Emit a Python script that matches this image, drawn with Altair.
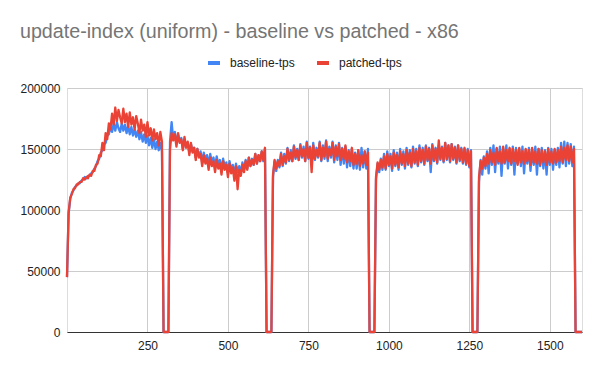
import altair as alt
import pandas as pd

# x positions (every 5 units)
x_values = list(range(0, 1601, 5))

baseline_tps = [
    # segment 1 (0-295)
    45000, 97000, 109000, 114000, 116000, 119000, 120000, 122000, 122000, 124000,
    125000, 127000, 126000, 128000, 128000, 130000, 131000, 134000, 136000, 140000,
    142000, 147000, 149000, 154000, 155000, 161000, 162000, 168000, 164000, 171000,
    165000, 172000, 167000, 164000, 171000, 165000, 170000, 163000, 169000, 162000,
    168000, 161000, 166000, 160000, 165000, 158000, 164000, 156000, 162000, 155000,
    161000, 153000, 159000, 151000, 158000, 150000, 156000, 149000, 155000, 148000,
    # gap (300-315)
    0, 0, 0, 0,
    # segment 2 (320-615)
    156000, 172000, 158000, 164000, 154000, 162000, 156000, 159000, 150000, 158000,
    152000, 155000, 147000, 154000, 148000, 151000, 143000, 150000, 144000, 148000,
    139000, 147000, 141000, 145000, 137000, 146000, 139000, 143000, 135000, 144000,
    137000, 141000, 132000, 142000, 135000, 139000, 131000, 140000, 133000, 137000,
    129000, 138000, 131000, 136000, 130000, 139000, 133000, 141000, 134000, 143000,
    136000, 142000, 137000, 146000, 138000, 145000, 140000, 148000, 140000, 150000,
    # gap (620-635)
    0, 0, 0, 0,
    # segment 3 (640-935)
    127000, 140000, 132000, 141000, 135000, 147000, 136000, 146000, 138000, 151000,
    140000, 149000, 140000, 153000, 142000, 150000, 141000, 154000, 143000, 152000,
    140000, 156000, 142000, 152000, 137000, 155000, 141000, 151000, 143000, 156000,
    140000, 153000, 142000, 157000, 140000, 152000, 143000, 156000, 139000, 153000,
    141000, 155000, 137000, 151000, 138000, 152000, 135000, 149000, 136000, 150000,
    134000, 147000, 134000, 149000, 133000, 151000, 135000, 148000, 134000, 150000,
    # gap (940-955)
    0, 0, 0, 0,
    # segment 4 (960-1255)
    125000, 138000, 131000, 142000, 133000, 146000, 133000, 148000, 136000, 146000,
    132000, 149000, 136000, 147000, 133000, 150000, 137000, 148000, 134000, 151000,
    137000, 149000, 135000, 152000, 138000, 150000, 136000, 153000, 139000, 151000,
    137000, 153000, 140000, 151000, 131000, 154000, 140000, 151000, 138000, 153000,
    141000, 152000, 139000, 155000, 141000, 153000, 139000, 154000, 141000, 152000,
    138000, 153000, 140000, 151000, 138000, 150000, 137000, 150000, 135000, 149000,
    # gap (1260-1275)
    0, 0, 0, 0,
    # segment 5 (1280-1575)
    123000, 141000, 129000, 144000, 134000, 148000, 130000, 151000, 137000, 153000,
    131000, 150000, 138000, 152000, 128000, 151000, 138000, 153000, 134000, 150000,
    137000, 152000, 129000, 151000, 138000, 150000, 136000, 152000, 130000, 149000,
    138000, 151000, 132000, 150000, 137000, 152000, 129000, 150000, 136000, 151000,
    134000, 149000, 129000, 151000, 137000, 150000, 133000, 149000, 137000, 151000,
    135000, 155000, 138000, 156000, 136000, 155000, 138000, 154000, 136000, 152000,
    # tail (1580-1600)
    0, 0, 0, 0, 0,
]

patched_tps = [
    # segment 1 (0-295)
    45000, 98000, 110000, 113000, 117000, 118000, 121000, 121000, 123000, 123000,
    126000, 125000, 127000, 126000, 129000, 128000, 132000, 132000, 137000, 138000,
    145000, 144000, 155000, 149000, 163000, 158000, 171000, 166000, 179000, 170000,
    184000, 173000, 182000, 176000, 171000, 183000, 172000, 179000, 168000, 180000,
    170000, 176000, 166000, 177000, 171000, 163000, 174000, 165000, 170000, 160000,
    172000, 161000, 167000, 157000, 166000, 158000, 163000, 153000, 164000, 156000,
    # gap (300-315)
    0, 0, 0, 0,
    # segment 2 (320-615)
    150000, 163000, 157000, 162000, 152000, 163000, 155000, 158000, 149000, 160000,
    151000, 156000, 145000, 155000, 147000, 151000, 141000, 150000, 143000, 146000,
    136000, 145000, 138000, 142000, 133000, 143000, 136000, 140000, 131000, 141000,
    134000, 138000, 129000, 140000, 133000, 137000, 127000, 138000, 130000, 135000,
    124000, 136000, 117000, 133000, 128000, 137000, 131000, 140000, 133000, 143000,
    136000, 141000, 137000, 146000, 138000, 145000, 140000, 148000, 141000, 151000,
    # gap (620-635)
    0, 0, 0, 0,
    # segment 3 (640-935)
    129000, 141000, 134000, 140000, 136000, 146000, 137000, 144000, 139000, 150000,
    141000, 147000, 140000, 152000, 143000, 149000, 141000, 153000, 144000, 150000,
    140000, 155000, 143000, 151000, 131000, 153000, 142000, 149000, 144000, 155000,
    141000, 151000, 144000, 156000, 142000, 150000, 145000, 155000, 141000, 152000,
    144000, 154000, 141000, 150000, 142000, 153000, 139000, 148000, 140000, 151000,
    137000, 146000, 138000, 149000, 136000, 145000, 138000, 148000, 137000, 147000,
    # gap (940-955)
    0, 0, 0, 0,
    # segment 4 (960-1255)
    127000, 139000, 133000, 141000, 135000, 144000, 134000, 146000, 137000, 144000,
    134000, 147000, 137000, 145000, 135000, 148000, 138000, 146000, 136000, 149000,
    138000, 147000, 136000, 150000, 139000, 148000, 137000, 151000, 140000, 149000,
    138000, 152000, 141000, 150000, 138000, 153000, 141000, 150000, 139000, 157000,
    142000, 151000, 140000, 155000, 142000, 153000, 140000, 154000, 142000, 151000,
    139000, 153000, 141000, 150000, 139000, 151000, 138000, 149000, 136000, 148000,
    # gap (1260-1275)
    0, 0, 0, 0,
    # segment 5 (1280-1575)
    127000, 140000, 134000, 143000, 136000, 146000, 138000, 149000, 139000, 147000,
    137000, 151000, 140000, 148000, 138000, 152000, 139000, 149000, 140000, 151000,
    138000, 150000, 140000, 149000, 137000, 151000, 139000, 148000, 138000, 150000,
    140000, 149000, 137000, 151000, 139000, 148000, 138000, 150000, 137000, 149000,
    139000, 148000, 137000, 150000, 139000, 148000, 138000, 150000, 139000, 149000,
    140000, 152000, 139000, 151000, 141000, 153000, 140000, 152000, 139000, 150000,
    # tail (1580-1600)
    0, 0, 0, 0, 0,
]

series_names = ["baseline-tps", "patched-tps"]
series_colors = ["#4285F4", "#EA4335"]
x_ticks = [250, 500, 750, 1000, 1250, 1500]
y_ticks = [0, 50000, 100000, 150000, 200000]

rows = []
for name, vals in zip(series_names, [baseline_tps, patched_tps]):
    for xv, v in zip(x_values, vals):
        rows.append({"x": xv, "value": v, "series": name})
df = pd.DataFrame(rows)

FONT = "Liberation Sans"

chart = alt.Chart(df).mark_line(strokeWidth=2.3, strokeJoin="round").encode(
    x=alt.X("x:Q", scale=alt.Scale(domain=[0, 1600], nice=False, zero=False),
            axis=alt.Axis(values=x_ticks, title=None, ticks=False, labelPadding=8,
                          format="d",
                          labelFont=FONT, labelFontSize=12, labelColor="#222222",
                          domainColor="#333333", domainWidth=1,
                          gridColor="#cccccc", labelFlush=False)),
    y=alt.Y("value:Q", scale=alt.Scale(domain=[0, 200000], nice=False),
            axis=alt.Axis(values=y_ticks, title=None, ticks=False, domain=False,
                          format="d", labelPadding=7, labelFont=FONT,
                          labelFontSize=12, labelColor="#222222",
                          gridColor="#cccccc")),
    color=alt.Color("series:N",
                    scale=alt.Scale(domain=series_names, range=series_colors),
                    legend=alt.Legend(title=None, orient="none", direction="horizontal",
                                      legendX=139, legendY=-33,
                                      symbolType="stroke", symbolStrokeWidth=4,
                                      symbolSize=144, labelFont=FONT,
                                      labelFontSize=12, labelColor="#222222",
                                      columnPadding=14, labelOffset=8)),
    order=alt.Order("x:Q"),
).properties(
    width=515,
    height=244,
    autosize=alt.AutoSizeParams(type="none"),
    padding={"left": 59, "top": 80, "right": 10, "bottom": 30},
    title=alt.TitleParams("update-index (uniform) - baseline vs patched - x86",
                          anchor="start", frame="bounds", font=FONT,
                          fontSize=19.7, fontWeight="normal", color="#757575",
                          offset=13),
).configure_view(stroke=None).configure(background="white")

chart.save("out.html", embed_options={"renderer": "svg", "actions": False})
